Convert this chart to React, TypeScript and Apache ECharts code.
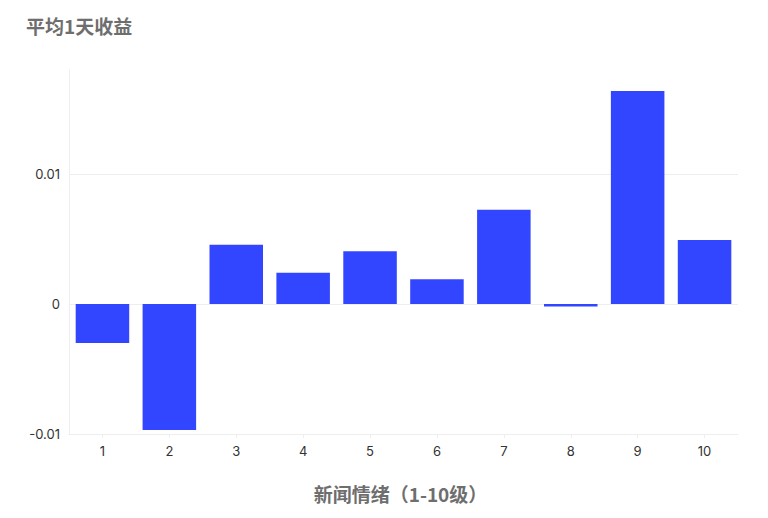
import { useEffect, useRef } from 'react';
import * as echarts from 'echarts';

const categories = ['1', '2', '3', '4', '5', '6', '7', '8', '9', '10'];
const avgReturn = [-0.003, -0.0097, 0.00455, 0.0024, 0.00405, 0.0019, 0.00725, -0.0002, 0.01638, 0.00493];

const App = () => {
    const chartRef = useRef(null);

    useEffect(() => {
        const myChart = echarts.init(chartRef.current, null, { renderer: 'svg' });

        myChart.setOption({
            animation: false,
            title: {
                text: '平均1天收益',
                left: 21,
                top: 11,
                textStyle: { fontSize: 19, fontWeight: 'bold', color: '#6e6e6e', fontFamily: 'Noto Sans CJK SC' },
            },
            grid: { left: 69, right: 30, top: 70, bottom: 84 },
            xAxis: {
                type: 'category',
                data: categories,
                name: '新闻情绪（1-10级）',
                nameLocation: 'middle',
                nameGap: 50,
                nameTextStyle: {
                    fontSize: 19,
                    fontWeight: 'bold',
                    color: '#6e6e6e',
                    fontFamily: 'Noto Sans CJK SC',
                    padding: [0, 6, 0, 0],
                },
                axisLine: { show: true, onZero: false, lineStyle: { color: '#eeeeee' } },
                axisTick: { show: true, alignWithLabel: true, length: 4, lineStyle: { color: '#eeeeee' } },
                axisLabel: { color: '#333', fontSize: 13, margin: 10, fontFamily: 'Inter' },
            },
            yAxis: {
                type: 'value',
                min: -0.01,
                max: 0.018,
                interval: 0.01,
                axisLine: { show: true, lineStyle: { color: '#eeeeee' } },
                axisTick: { show: false },
                splitLine: { show: true, showMaxLine: false, lineStyle: { color: '#eeeeee' } },
                axisLabel: {
                    color: '#333',
                    fontSize: 13,
                    margin: 9,
                    fontFamily: 'Inter',
                    showMaxLabel: false,
                    formatter: (v: number) => (Math.abs(v) < 1e-9 ? '0' : String(Math.round(v * 100) / 100)),
                },
            },
            series: [
                {
                    type: 'bar',
                    data: avgReturn,
                    barCategoryGap: '20%',
                    itemStyle: { color: '#3346ff' },
                },
            ],
        });

        return () => {
            myChart.dispose();
        };
    }, []);

    return <div ref={chartRef} style={{ width: '768px', height: '518px', margin: '-8px' }} />;
};

export default App;
